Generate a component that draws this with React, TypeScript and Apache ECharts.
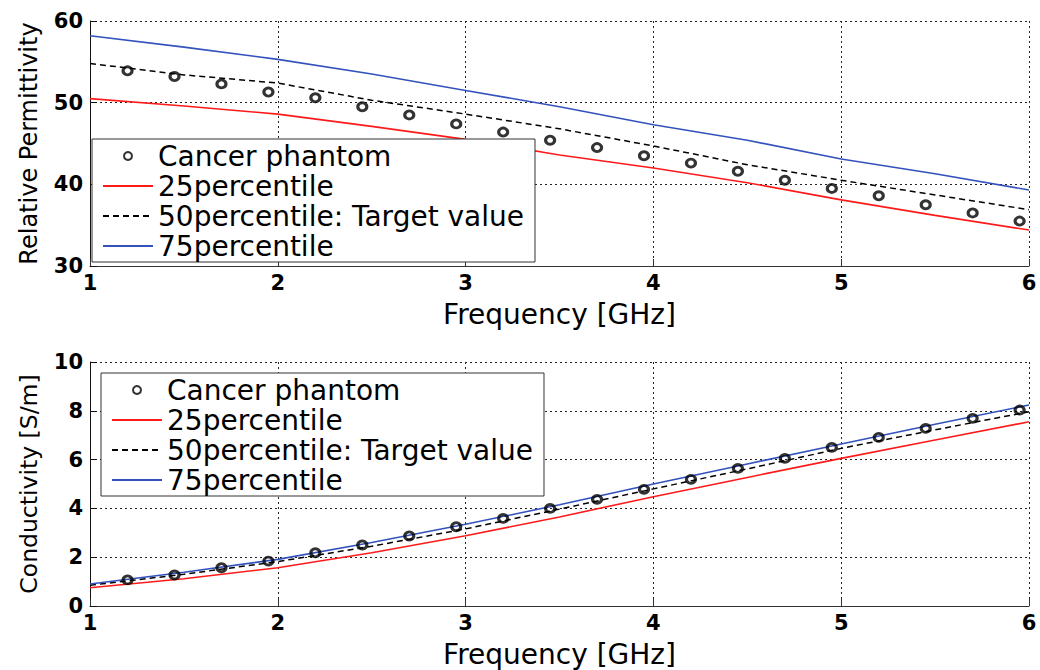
import React, { useEffect, useRef } from "react";
import * as echarts from "echarts";

// Frequency grid of the percentile curves [GHz]
const freqLine = [1, 1.5, 2, 2.5, 3, 3.5, 4, 4.5, 5, 5.5, 6];
// Frequencies of the phantom measurements [GHz]
const freqPhantom = [1.2, 1.45, 1.7, 1.95, 2.2, 2.45, 2.7, 2.95, 3.2, 3.45, 3.7, 3.95, 4.2, 4.45, 4.7, 4.95, 5.2, 5.45, 5.7, 5.95];

// Relative permittivity
const permPhantom = [53.9, 53.2, 52.3, 51.3, 50.6, 49.5, 48.5, 47.4, 46.4, 45.4, 44.5, 43.5, 42.6, 41.6, 40.5, 39.5, 38.6, 37.5, 36.5, 35.5];
const perm25 = [50.5, 49.6, 48.6, 47.1, 45.5, 43.6, 42.0, 40.2, 38.1, 36.2, 34.4];
const perm50 = [54.8, 53.4, 52.4, 50.3, 48.6, 46.8, 44.7, 42.4, 40.5, 38.7, 36.9];
const perm75 = [58.2, 56.8, 55.3, 53.5, 51.5, 49.5, 47.3, 45.4, 43.1, 41.3, 39.3];

// Conductivity [S/m]
const condPhantom = [1.07, 1.27, 1.57, 1.84, 2.18, 2.5, 2.87, 3.25, 3.59, 4.0, 4.37, 4.78, 5.19, 5.64, 6.05, 6.5, 6.91, 7.28, 7.69, 8.03];
const cond25 = [0.75, 1.12, 1.57, 2.18, 2.88, 3.65, 4.48, 5.27, 6.05, 6.8, 7.55];
const cond50 = [0.85, 1.3, 1.82, 2.45, 3.16, 3.97, 4.8, 5.62, 6.46, 7.22, 7.96];
const cond75 = [0.9, 1.38, 1.91, 2.6, 3.35, 4.15, 5.0, 5.82, 6.64, 7.45, 8.24];

const seriesNames = ["Cancer phantom", "25percentile", "50percentile: Target value", "75percentile"];
const xTitle = "Frequency [GHz]";
const yTitles = ["Relative Permittivity", "Conductivity [S/m]"];
const yRanges = [
  { min: 30, max: 60, interval: 10 },
  { min: 0, max: 10, interval: 2 },
];

const RED = "#ff1a1a";
const BLUE = "#3352bd";
const FONT = "DejaVu Sans";

function pair(xs: number[], ys: number[]) {
  return xs.map((x, i) => [x, ys[i]]);
}

export default function App() {
  const ref = useRef<HTMLDivElement>(null);

  useEffect(() => {
    if (!ref.current) return;
    const chart = echarts.init(ref.current, undefined, { renderer: "svg" });

    const grids = [
      { left: 90, top: 21, width: 939, height: 245 },
      { left: 90, top: 362, width: 939, height: 244 },
    ];

    const xAxis = [0, 1].map((i) => ({
      gridIndex: i,
      type: "value",
      min: 1,
      max: 6,
      interval: 1,
      name: xTitle,
      nameLocation: "middle",
      nameGap: 34,
      nameTextStyle: { fontSize: 28, color: "#000", fontFamily: FONT },
      axisLine: { show: true, onZero: false, lineStyle: { color: "#333", width: 1 } },
      axisTick: { show: true, inside: true, length: 7, lineStyle: { color: "#333" } },
      axisLabel: { fontSize: 21, fontWeight: "bold", color: "#000", margin: 6, fontFamily: FONT },
      splitLine: { show: true, lineStyle: { type: [2, 3], color: "#222", width: 1 } },
    }));

    const yAxis = [0, 1].map((i) => ({
      gridIndex: i,
      type: "value",
      min: yRanges[i].min,
      max: yRanges[i].max,
      interval: yRanges[i].interval,
      name: yTitles[i],
      nameLocation: "middle",
      nameGap: 49,
      nameTextStyle: { fontSize: i === 0 ? 24 : 23.5, color: "#000", fontFamily: FONT },
      axisLine: { show: true, onZero: false, lineStyle: { color: "#111", width: 1 } },
      axisTick: { show: true, inside: true, length: 7, lineStyle: { color: "#111" } },
      axisLabel: { fontSize: 21, fontWeight: "bold", color: "#000", margin: 7, fontFamily: FONT },
      splitLine: { show: true, lineStyle: { type: [2, 3], color: "#222", width: 1 } },
    }));

    const makeSeries = (i: number, phantom: number[], p25: number[], p50: number[], p75: number[]) => [
      {
        type: "line",
        name: seriesNames[1],
        xAxisIndex: i,
        yAxisIndex: i,
        data: pair(freqLine, p25),
        symbol: "none",
        lineStyle: { color: RED, width: 1.6 },
        itemStyle: { color: RED },
        z: 2,
      },
      {
        type: "line",
        name: seriesNames[2],
        xAxisIndex: i,
        yAxisIndex: i,
        data: pair(freqLine, p50),
        symbol: "none",
        lineStyle: { color: "#000", width: 1.5, type: [6, 4] },
        itemStyle: { color: "#000" },
        z: 2,
      },
      {
        type: "line",
        name: seriesNames[3],
        xAxisIndex: i,
        yAxisIndex: i,
        data: pair(freqLine, p75),
        symbol: "none",
        lineStyle: { color: BLUE, width: 1.6 },
        itemStyle: { color: BLUE },
        z: 2,
      },
      {
        type: "scatter",
        name: seriesNames[0],
        xAxisIndex: i,
        yAxisIndex: i,
        data: pair(freqPhantom, phantom),
        symbol: "circle",
        symbolSize: [9, 8],
        itemStyle: { color: "rgba(0,0,0,0)", borderColor: "#000", borderWidth: 3 },
        z: 3,
      },
    ];

    const legendData = seriesNames.map((name, k) =>
      k === 0 ? { name } : { name, itemStyle: { opacity: 0 } }
    );

    const legendBase = {
      orient: "vertical",
      data: legendData,
      itemWidth: 50,
      itemHeight: 8,
      itemGap: 0,
      selectedMode: false,
      textStyle: { fontSize: 28, lineHeight: 30, color: "#000", fontFamily: FONT },
      padding: [2, 11, 1, 10],
      borderColor: "#333",
      borderWidth: 1,
      backgroundColor: "#fff",
      z: 10,
    };

    chart.setOption({
      animation: false,
      backgroundColor: "#fff",
      textStyle: { fontFamily: FONT },
      grid: grids,
      xAxis,
      yAxis,
      legend: [
        { ...legendBase, left: 92, top: 139 },
        { ...legendBase, left: 101, top: 373 },
      ],
      series: [
        ...makeSeries(0, permPhantom, perm25, perm50, perm75),
        ...makeSeries(1, condPhantom, cond25, cond50, cond75),
      ],
    });

    return () => chart.dispose();
  }, []);

  return (
    <div
      ref={ref}
      style={{ position: "absolute", left: 0, top: 0, width: 1040, height: 670 }}
    />
  );
}
